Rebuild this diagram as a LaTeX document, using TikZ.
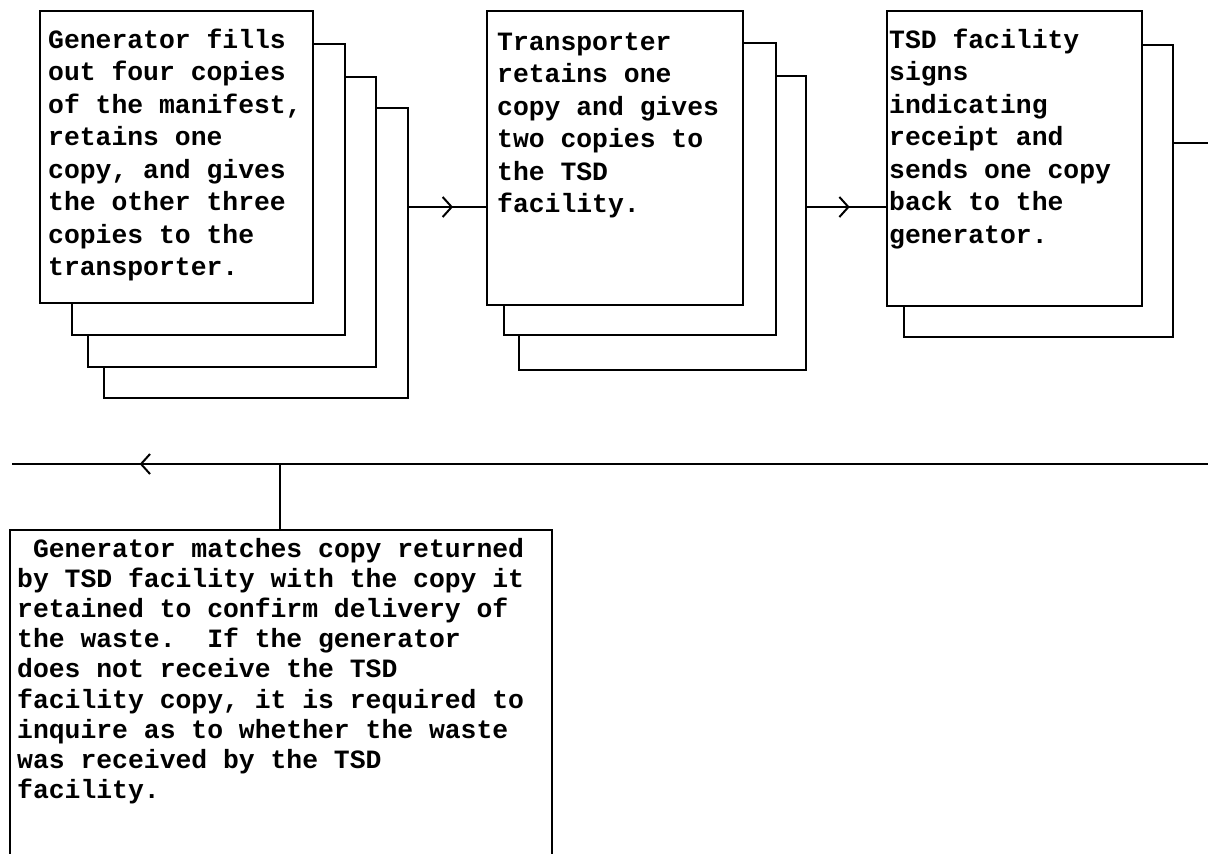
\documentclass[tikz,border=0pt]{standalone}
\usepackage{fontspec}
\usepackage{graphicx}
\usetikzlibrary{decorations.markings,arrows.meta}
\newfontfamily\twfont{Liberation Mono}
\tikzset{
  x=1pt, y=-1pt,
  page/.style={draw, fill=white, line width=2pt, inner sep=0pt, outer sep=0pt, anchor=north west, rectangle},
  flow/.style={line width=2pt},
  midarrow/.style={postaction={decorate}, decoration={markings, mark=at position #1 with {\arrow{Straight Barb[length=9pt,width=20pt,line width=2pt]}}}},
  revarrow/.style={postaction={decorate}, decoration={markings, mark=at position #1 with {\arrow{Straight Barb[length=9pt,width=20pt,line width=2pt]}}}},
  toptxt/.style={anchor=base west, inner sep=0pt, font=\twfont\bfseries\fontsize{26.4}{32.5}\selectfont},
  bottxt/.style={anchor=base west, inner sep=0pt, font=\twfont\bfseries\fontsize{26.4}{30.2}\selectfont},
}
\begin{document}
\begin{tikzpicture}
\useasboundingbox (0,0) rectangle (1208,854);
\clip (0,0) rectangle (1208,854);
\fill[white] (0,0) rectangle (1208,854);
% stack 1
\node[page, minimum width=304pt, minimum height=290pt] (s1d) at (104,108) {};
\node[page, minimum width=288pt, minimum height=290pt] (s1c) at (88,77) {};
\node[page, minimum width=273pt, minimum height=291pt] (s1b) at (72,44) {};
\node[page, minimum width=273pt, minimum height=292pt] (s1a) at (40,11) {};
% stack 2
\node[page, minimum width=287pt, minimum height=294pt] (s2c) at (519,76) {};
\node[page, minimum width=272pt, minimum height=292pt] (s2b) at (504,43) {};
\node[page, minimum width=256pt, minimum height=294pt] (s2a) at (487,11) {};
% stack 3
\node[page, minimum width=269pt, minimum height=292pt] (s3b) at (904,45) {};
\node[page, minimum width=255pt, minimum height=295pt] (s3a) at (887,11) {};
% bottom box
\node[page, minimum width=542pt, minimum height=400pt] (bx) at (10,530) {};
% texts
\node[toptxt] (t1) at (48,48) {\begin{tabular}[t]{@{}l@{}}Generator fills\\out four copies\\of the manifest,\\retains one\\copy, and gives\\the other three\\copies to the\\transporter.\end{tabular}};
\node[toptxt] (t2) at (497,50) {\begin{tabular}[t]{@{}l@{}}Transporter\\retains one\\copy and gives\\two copies to\\the TSD\\facility.\end{tabular}};
\node[toptxt] (t3) at (889,48) {\begin{tabular}[t]{@{}l@{}}TSD facility\\signs\\indicating\\receipt and\\sends one copy\\back to the\\generator.\end{tabular}};
\node[bottxt] (t4) at (17,557) {\begin{tabular}[t]{@{}l@{}}~Generator matches copy returned\\by TSD facility with the copy it\\retained to confirm delivery of\\the waste.~~If the generator\\does not receive the TSD\\facility copy, it is required to\\inquire as to whether the waste\\was received by the TSD\\facility.\end{tabular}};
% connectors
\coordinate (a1) at (0,207);
\draw[flow, midarrow=0.57] (s1d.east |- a1) -- (s2a.west |- a1);
\draw[flow, midarrow=0.54] (s2c.east |- a1) -- (s3a.west |- a1);
\coordinate (r1) at (1230,143);
\coordinate (r2) at (1230,464);
\coordinate (l2) at (12,464);
\draw[flow, midarrow=0.920] (s3b.east |- r1) -- (r1) -- (r2) -- (l2);
\coordinate (j) at (280,464);
\draw[flow] (j) -- (j |- bx.north);
\end{tikzpicture}
\end{document}
